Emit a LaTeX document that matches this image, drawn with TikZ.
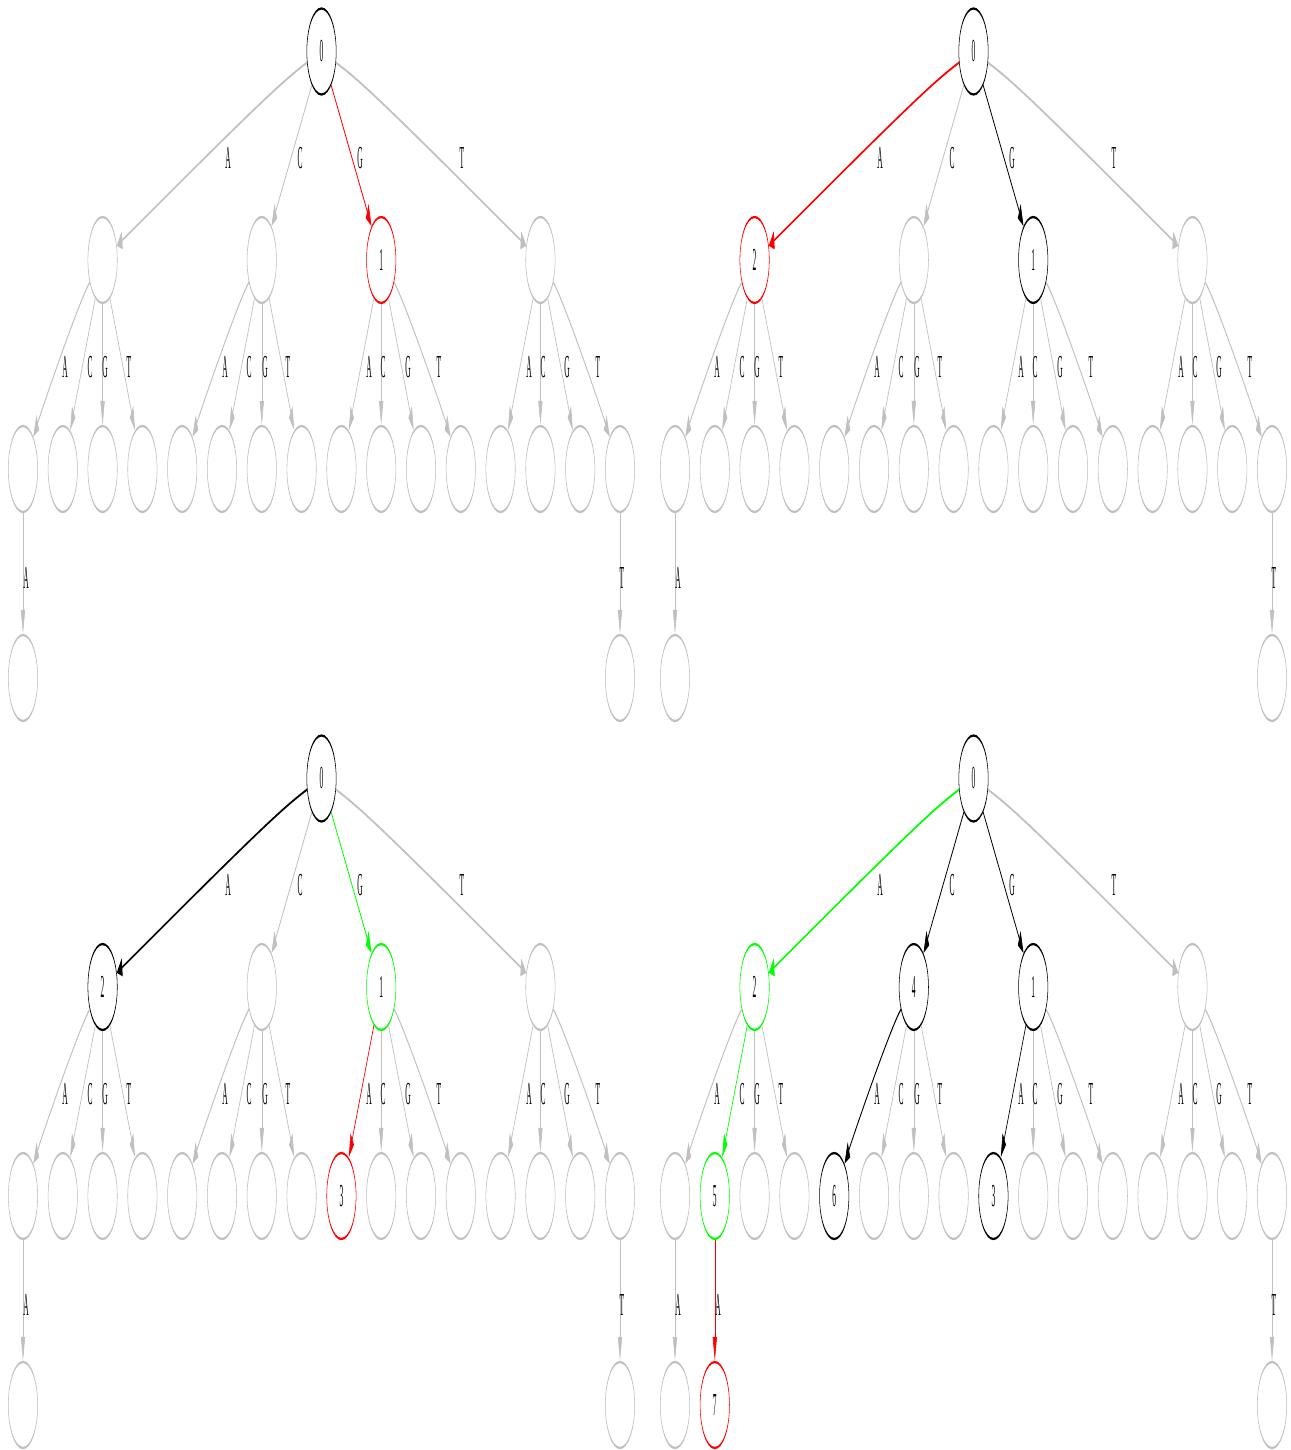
\documentclass[tikz,border=0pt]{standalone}
\usepackage{fontspec}
\setmainfont{Liberation Serif}
\usetikzlibrary{shapes.geometric,arrows.meta}
\definecolor{gr}{HTML}{C0C0C0}
\definecolor{grn}{HTML}{00FF00}
\definecolor{rd}{HTML}{FF0000}
\tikzset{
  nd/.style={ellipse, draw=#1, line width=2.3pt, minimum width=126pt, minimum height=86pt, inner sep=0pt, text=black, font=\fontsize{32}{32}\selectfont},
  gn/.style={nd=gr}, bn/.style={nd=black}, rn/.style={nd=rd}, en/.style={nd=grn},
  ed/.style={draw=#1, line width=2.3pt, -{Triangle[length=24pt,width=18pt]}},
  ge/.style={ed=gr}, be/.style={ed=black}, re/.style={ed=rd}, ee/.style={ed=grn},
  lbl/.style={inner sep=0pt, text=black, font=\fontsize{32}{32}\selectfont},
  nR/.style={bn},
  nA/.style={gn}, nC/.style={gn}, nG/.style={gn}, nT/.style={gn},
  nAA/.style={gn}, nAC/.style={gn}, nAG/.style={gn}, nAT/.style={gn},
  nCA/.style={gn}, nCC/.style={gn}, nCG/.style={gn}, nCT/.style={gn},
  nGA/.style={gn}, nGC/.style={gn}, nGG/.style={gn}, nGT/.style={gn},
  nTA/.style={gn}, nTC/.style={gn}, nTG/.style={gn}, nTT/.style={gn},
  nAAA/.style={gn}, nTTT/.style={gn}, nACA/.style={gn},
  eA/.style={ge}, eC/.style={ge}, eG/.style={ge}, eT/.style={ge},
  eAA/.style={ge}, eAC/.style={ge}, eAG/.style={ge}, eAT/.style={ge},
  eCA/.style={ge}, eCC/.style={ge}, eCG/.style={ge}, eCT/.style={ge},
  eGA/.style={ge}, eGC/.style={ge}, eGG/.style={ge}, eGT/.style={ge},
  eTA/.style={ge}, eTC/.style={ge}, eTG/.style={ge}, eTT/.style={ge},
  eAAA/.style={ge}, eTTT/.style={ge}, eACA/.style={ge},
}
\newcommand\setlab[2]{\expandafter\def\csname lab#1\endcsname{#2}}
\newcommand\tn[4]{\node[n#2] (#1#2) at (#3,#4) {\csname lab#2\endcsname};}
\newcommand\ts[3]{\draw[e#3] (#1#2) -- (#1#3);}
\newcommand\tc[5]{\draw[e#3] (#1#2) .. controls #4 and #5 .. (#1#3);}
\newcommand\elab[5]{\node[lbl] (#1l#2) at (#3,#4) {#5};}
\newcommand\trie[1]{%
  \tn{#1}{R}{321.5}{51.5}
  \tn{#1}{A}{102.6}{260}\tn{#1}{C}{261.8}{260}\tn{#1}{G}{381.2}{260}\tn{#1}{T}{540.4}{260}
  \tn{#1}{AA}{23}{469}\tn{#1}{AC}{62.8}{469}\tn{#1}{AG}{102.6}{469}\tn{#1}{AT}{142.4}{469}
  \tn{#1}{CA}{182.2}{469}\tn{#1}{CC}{222}{469}\tn{#1}{CG}{261.8}{469}\tn{#1}{CT}{301.6}{469}
  \tn{#1}{GA}{341.4}{469}\tn{#1}{GC}{381.2}{469}\tn{#1}{GG}{421}{469}\tn{#1}{GT}{460.8}{469}
  \tn{#1}{TA}{500.6}{469}\tn{#1}{TC}{540.4}{469}\tn{#1}{TG}{580.2}{469}\tn{#1}{TT}{620}{469}
  \tn{#1}{AAA}{23}{678}\tn{#1}{TTT}{620}{678}
  \tc{#1}{R}{A}{(283,81)}{(262,100)}
  \ts{#1}{R}{C}\ts{#1}{R}{G}
  \tc{#1}{R}{T}{(360,81)}{(381,100)}
  \tc{#1}{A}{AA}{(79.6,300)}{(45,400)}\ts{#1}{A}{AC}\ts{#1}{A}{AG}\ts{#1}{A}{AT}
  \tc{#1}{C}{CA}{(238.8,300)}{(204.2,400)}\ts{#1}{C}{CC}\ts{#1}{C}{CG}\ts{#1}{C}{CT}
  \ts{#1}{G}{GA}\ts{#1}{G}{GC}\ts{#1}{G}{GG}\tc{#1}{G}{GT}{(404.2,300)}{(438.8,400)}
  \ts{#1}{T}{TA}\ts{#1}{T}{TC}\ts{#1}{T}{TG}\tc{#1}{T}{TT}{(563.4,300)}{(598,400)}
  \ts{#1}{AA}{AAA}\ts{#1}{TT}{TTT}
  \elab{#1}{A}{228}{158}{A}\elab{#1}{C}{300}{158}{C}\elab{#1}{G}{360}{158}{G}\elab{#1}{T}{462}{158}{T}
  \elab{#1}{AA}{65}{367}{A}\elab{#1}{AC}{90}{367}{C}\elab{#1}{AG}{105}{367}{G}\elab{#1}{AT}{129}{367}{T}
  \elab{#1}{CA}{225}{367}{A}\elab{#1}{CC}{249}{367}{C}\elab{#1}{CG}{265}{367}{G}\elab{#1}{CT}{288}{367}{T}
  \elab{#1}{GA}{369}{367}{A}\elab{#1}{GC}{383}{367}{C}\elab{#1}{GG}{408}{367}{G}\elab{#1}{GT}{439}{367}{T}
  \elab{#1}{TA}{529}{367}{A}\elab{#1}{TC}{543}{367}{C}\elab{#1}{TG}{567}{367}{G}\elab{#1}{TT}{598}{367}{T}
  \elab{#1}{AAA}{26}{578}{A}\elab{#1}{TTT}{622}{578}{T}
}
\begin{document}
\begin{tikzpicture}
\fill[white] (0pt,0pt) rectangle (1290pt,-1450pt);
\begin{scope}[transform canvas={xscale=0.233}, x=4.29185pt, y=-1pt]
  % top left
  \begin{scope}
    \setlab{R}{0}\setlab{G}{1}
    \tikzset{nG/.style={rn}, eG/.style={re}}
    \trie{TL}
  \end{scope}
  % top right
  \begin{scope}[shift={(652,0)}]
    \setlab{R}{0}\setlab{A}{2}\setlab{G}{1}
    \tikzset{nA/.style={rn}, eA/.style={re}, nG/.style={bn}, eG/.style={be}}
    \trie{TR}
  \end{scope}
  % bottom left
  \begin{scope}[shift={(0,727)}]
    \setlab{R}{0}\setlab{A}{2}\setlab{G}{1}\setlab{GA}{3}
    \tikzset{nA/.style={bn}, eA/.style={be}, nG/.style={en}, eG/.style={ee}, nGA/.style={rn}, eGA/.style={re}}
    \trie{BL}
  \end{scope}
  % bottom right
  \begin{scope}[shift={(652,727)}]
    \setlab{R}{0}\setlab{A}{2}\setlab{C}{4}\setlab{G}{1}\setlab{AC}{5}\setlab{CA}{6}\setlab{GA}{3}\setlab{ACA}{7}
    \tikzset{nA/.style={en}, eA/.style={ee}, nC/.style={bn}, eC/.style={be}, nG/.style={bn}, eG/.style={be},
      nAC/.style={en}, eAC/.style={ee}, nCA/.style={bn}, eCA/.style={be}, nGA/.style={bn}, eGA/.style={be},
      nACA/.style={rn}, eACA/.style={re}}
    \trie{BR}
    \tn{BR}{ACA}{62.8}{678}
    \ts{BR}{AC}{ACA}
    \elab{BR}{ACA}{66}{578}{A}
  \end{scope}
\end{scope}
\pgfresetboundingbox
\useasboundingbox (0pt,0pt) rectangle (1290pt,-1450pt);
\end{tikzpicture}
\end{document}
